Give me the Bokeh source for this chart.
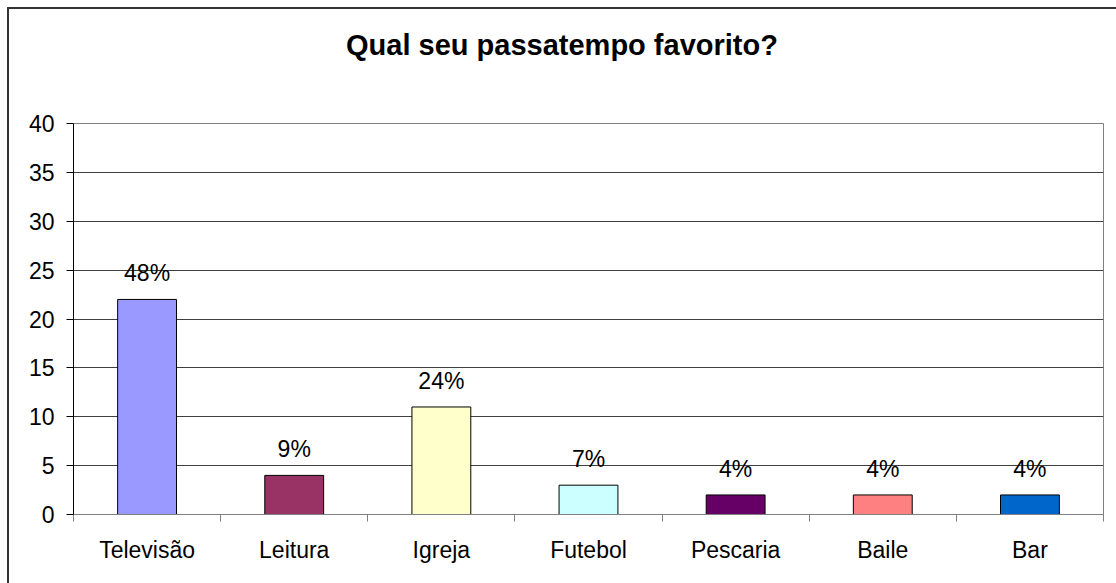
from bokeh.plotting import figure
from bokeh.models import Range1d, FixedTicker, Div, InlineStyleSheet
from bokeh.layouts import column
from bokeh.core.properties import value
from bokeh.embed import file_html
from bokeh.resources import INLINE

categories = ["Televisão", "Leitura", "Igreja", "Futebol", "Pescaria", "Baile", "Bar"]
counts = [22, 4, 11, 3, 2, 2, 2]
pct_labels = ["48%", "9%", "24%", "7%", "4%", "4%", "4%"]
bar_colors = ["#9999FF", "#993366", "#FFFFCC", "#CCFFFF", "#660066", "#FF8080", "#0066CC"]
y_ticks = [0, 5, 10, 15, 20, 25, 30, 35, 40]
title_text = "Qual seu passatempo favorito?"

FONT = "Liberation Sans"

title_div = Div(text=title_text, width=1116, height=93, margin=0,
                styles={"font-family": "'Liberation Sans', Arial, sans-serif",
                        "font-weight": "bold", "font-size": "29px",
                        "line-height": "90px", "text-align": "center",
                        "text-indent": "8px", "color": "black",
                        "background-color": "white", "white-space": "nowrap"})

p = figure(width=1116, height=490, output_backend="svg", toolbar_location=None,
           x_range=Range1d(0, len(categories)), y_range=Range1d(0, 40),
           min_border_left=73, min_border_right=13, min_border_top=30, min_border_bottom=69,
           margin=0)
p.title = None
p.background_fill_color = "white"
p.border_fill_color = "white"
p.outline_line_color = "#808080"
p.outline_line_width = 1

xs = [i + 0.5 for i in range(len(categories))]
p.vbar(x=xs, top=counts, bottom=0, width=0.4, fill_color=bar_colors,
       line_color="black", line_width=1)
p.text(x=xs, y=counts, text=pct_labels, y_offset=-26, text_align="center",
       text_baseline="alphabetic", text_font=value(FONT), text_font_size="23px",
       text_color="black")

# axes
p.xaxis.ticker = FixedTicker(ticks=xs, minor_ticks=list(range(len(categories) + 1)))
p.xaxis.major_label_overrides = {x: c for x, c in zip(xs, categories)}
p.xaxis.major_tick_out = 0
p.xaxis.major_tick_in = 0
p.xaxis.minor_tick_out = 7
p.xaxis.minor_tick_in = 0
p.xaxis.minor_tick_line_color = "#808080"
p.xaxis.axis_line_color = "#808080"
p.xaxis.major_label_standoff = 15
p.xaxis.major_label_text_font = FONT
p.xaxis.major_label_text_font_size = "23px"
p.xaxis.major_label_text_color = "black"

p.yaxis.ticker = FixedTicker(ticks=y_ticks)
p.yaxis.major_tick_out = 7
p.yaxis.major_tick_in = 0
p.yaxis.minor_tick_line_color = None
p.yaxis.axis_line_color = "black"
p.yaxis.major_tick_line_color = "black"
p.yaxis.major_label_standoff = 12
p.yaxis.major_label_text_font = FONT
p.yaxis.major_label_text_font_size = "23px"
p.yaxis.major_label_text_color = "black"

p.xgrid.grid_line_color = None
p.ygrid.grid_line_color = "#404040"
p.ygrid.grid_line_width = 1

layout = column(title_div, p, spacing=0, margin=0)

# outer chart border (top and left edges visible in the window)
layout.stylesheets = [InlineStyleSheet(css="""
:host { position: relative; }
:host::after {
  content: '';
  position: absolute;
  left: 7px; top: 7px; right: 0; bottom: 0;
  border-top: 2px solid #333333;
  border-left: 2px solid #333333;
  pointer-events: none;
  z-index: 10;
}
""")]

open("out.html", "w").write(file_html(layout, INLINE))
